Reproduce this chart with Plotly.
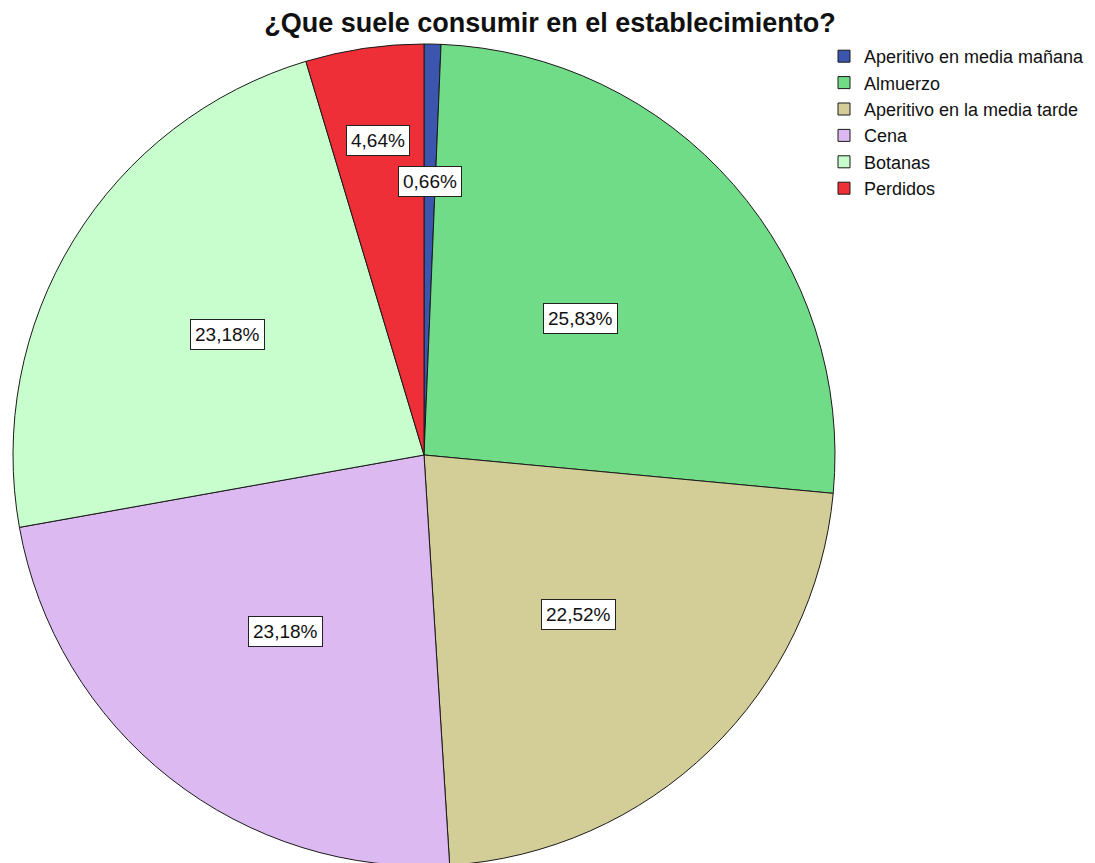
import math
import plotly.graph_objects as go

categories = ["Aperitivo en media mañana", "Almuerzo", "Aperitivo en la media tarde",
              "Cena", "Botanas", "Perdidos"]
percentages = [0.66, 25.83, 22.52, 23.18, 23.18, 4.64]
pct_labels = ["0,66%", "25,83%", "22,52%", "23,18%", "23,18%", "4,64%"]

colors = ["#3C56B0", "#70DC87", "#D3CE98", "#DDB9F1", "#C8FECE", "#EE2F37"]
label_radius = [0.666, 0.504, 0.539, 0.546, 0.561, 0.774]  # fraction of pie radius

W, H = 1095, 863
CX, CY, R = 416, 447, 411

fig = go.Figure(go.Pie(
    labels=categories, values=percentages, sort=False, direction="clockwise",
    rotation=0, marker=dict(colors=colors, line=dict(color="#1a1a1a", width=1)),
    textinfo="none", hoverinfo="label+percent",
    domain=dict(x=[(CX - R) / W, (CX + R) / W], y=[1 - (CY + R) / H, 1 - (CY - R) / H]),
))

total = sum(percentages)
cum = 0.0
for v, lab, lr in zip(percentages, pct_labels, label_radius):
    mid = (cum + v / 2) / total * 2 * math.pi
    cum += v
    px = CX + lr * R * math.sin(mid)
    py = CY - lr * R * math.cos(mid)
    fig.add_annotation(x=px / W, y=1 - py / H, xref="paper", yref="paper",
                       xanchor="center", yanchor="middle",
                       text=lab, showarrow=False,
                       font=dict(family="Liberation Sans", size=19, color="#111"),
                       bgcolor="white", bordercolor="#222", borderwidth=1, borderpad=4)

fig.update_layout(
    width=W, height=H, margin=dict(l=0, r=0, t=0, b=0),
    paper_bgcolor="white", plot_bgcolor="white",
    title=dict(text="<b>¿Que suele consumir en el establecimiento?</b>",
               x=542 / W, xanchor="center", y=1 - 15 / H, yanchor="middle",
               font=dict(family="Liberation Sans", size=27, color="#111")),
    legend=dict(x=816 / W, y=1 - 30 / H, xanchor="left", yanchor="top",
                font=dict(family="Liberation Sans", size=18, color="#111"),
                bgcolor="rgba(0,0,0,0)", tracegroupgap=0, itemwidth=30),
)

fig.write_html("out.html")
